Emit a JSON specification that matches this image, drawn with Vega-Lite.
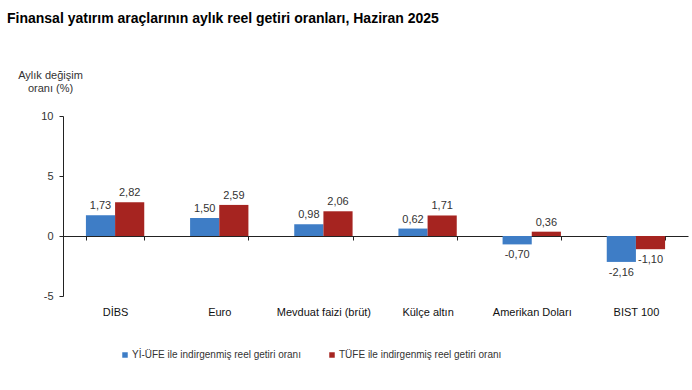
{
  "$schema": "https://vega.github.io/schema/vega-lite/v6.json",
  "width": 625,
  "height": 180,
  "autosize": {"type": "none"},
  "padding": {"left": 63, "top": 116, "right": 4, "bottom": 94},
  "background": "white",
  "title": {
    "text": "Finansal yatırım araçlarının aylık reel getiri oranları, Haziran 2025",
    "anchor": "start",
    "frame": "group",
    "font": "Liberation Sans",
    "fontSize": 14,
    "fontWeight": "bold",
    "color": "#000000",
    "dx": -56,
    "dy": -39
  },
  "config": {
    "locale": {"number": {"decimal": ",", "thousands": ".", "grouping": [3], "currency": ["", " TL"], "minus": "-"}},
    "view": {"stroke": null},
    "font": "Liberation Sans"
  },
  "data": {
    "values": [
      {"arac": "DİBS", "seri": "Yİ-ÜFE ile indirgenmiş reel getiri oranı", "deger": 1.73},
      {"arac": "DİBS", "seri": "TÜFE ile indirgenmiş reel getiri oranı", "deger": 2.82},
      {"arac": "Euro", "seri": "Yİ-ÜFE ile indirgenmiş reel getiri oranı", "deger": 1.50},
      {"arac": "Euro", "seri": "TÜFE ile indirgenmiş reel getiri oranı", "deger": 2.59},
      {"arac": "Mevduat faizi (brüt)", "seri": "Yİ-ÜFE ile indirgenmiş reel getiri oranı", "deger": 0.98},
      {"arac": "Mevduat faizi (brüt)", "seri": "TÜFE ile indirgenmiş reel getiri oranı", "deger": 2.06},
      {"arac": "Külçe altın", "seri": "Yİ-ÜFE ile indirgenmiş reel getiri oranı", "deger": 0.62},
      {"arac": "Külçe altın", "seri": "TÜFE ile indirgenmiş reel getiri oranı", "deger": 1.71},
      {"arac": "Amerikan Doları", "seri": "Yİ-ÜFE ile indirgenmiş reel getiri oranı", "deger": -0.70},
      {"arac": "Amerikan Doları", "seri": "TÜFE ile indirgenmiş reel getiri oranı", "deger": 0.36},
      {"arac": "BIST 100", "seri": "Yİ-ÜFE ile indirgenmiş reel getiri oranı", "deger": -2.16},
      {"arac": "BIST 100", "seri": "TÜFE ile indirgenmiş reel getiri oranı", "deger": -1.10}
    ]
  },
  "encoding": {
    "x": {
      "field": "arac",
      "type": "nominal",
      "sort": null,
      "scale": {"paddingInner": 0.44, "paddingOuter": 0.22},
      "axis": {
        "title": null,
        "labelAngle": 0,
        "offset": -60,
        "labelPadding": 66,
        "tickBand": "extent",
        "tickSize": 4,
        "tickColor": "#222222",
        "domainColor": "#222222",
        "labelFont": "Liberation Sans",
        "labelFontSize": 11,
        "labelColor": "#111111"
      }
    },
    "xOffset": {
      "field": "seri",
      "type": "nominal",
      "sort": ["Yİ-ÜFE ile indirgenmiş reel getiri oranı", "TÜFE ile indirgenmiş reel getiri oranı"],
      "scale": {"paddingInner": 0, "paddingOuter": 0}
    },
    "y": {
      "field": "deger",
      "type": "quantitative",
      "scale": {"domain": [-5, 10], "nice": false},
      "axis": {
        "values": [-5, 0, 5, 10],
        "format": "d",
        "grid": false,
        "tickSize": 4,
        "tickColor": "#222222",
        "domainColor": "#222222",
        "labelFontSize": 11,
        "labelColor": "#333333",
        "labelPadding": 6,
        "title": ["Aylık değişim", "oranı (%)"],
        "titleAngle": 0,
        "titleAlign": "center",
        "titleBaseline": "bottom",
        "titleX": -13,
        "titleY": -36,
        "titleFont": "Liberation Sans",
        "titleFontSize": 11,
        "titleFontWeight": "normal",
        "titleColor": "#333333",
        "titleLineHeight": 13
      }
    }
  },
  "layer": [
    {
      "mark": {"type": "bar"},
      "encoding": {
        "color": {
          "field": "seri",
          "type": "nominal",
          "sort": ["Yİ-ÜFE ile indirgenmiş reel getiri oranı", "TÜFE ile indirgenmiş reel getiri oranı"],
          "scale": {"range": ["#3E7DC6", "#A62420"]},
          "legend": {
            "title": null,
            "orient": "none",
            "direction": "horizontal",
            "legendX": 57,
            "legendY": 234,
            "symbolType": "square",
            "symbolSize": 30,
            "labelFontSize": 10,
            "labelColor": "#333333",
            "labelOffset": 2,
            "labelLimit": 0,
            "columnPadding": 26
          }
        }
      }
    },
    {
      "transform": [{"filter": "datum.deger >= 0"}],
      "mark": {"type": "text", "baseline": "bottom", "dy": -4, "fontSize": 11, "color": "#333333"},
      "encoding": {"text": {"field": "deger", "type": "quantitative", "format": ".2f"}}
    },
    {
      "transform": [{"filter": "datum.deger < 0"}],
      "mark": {"type": "text", "baseline": "top", "dy": 5, "fontSize": 11, "color": "#333333"},
      "encoding": {"text": {"field": "deger", "type": "quantitative", "format": ".2f"}}
    }
  ]
}
